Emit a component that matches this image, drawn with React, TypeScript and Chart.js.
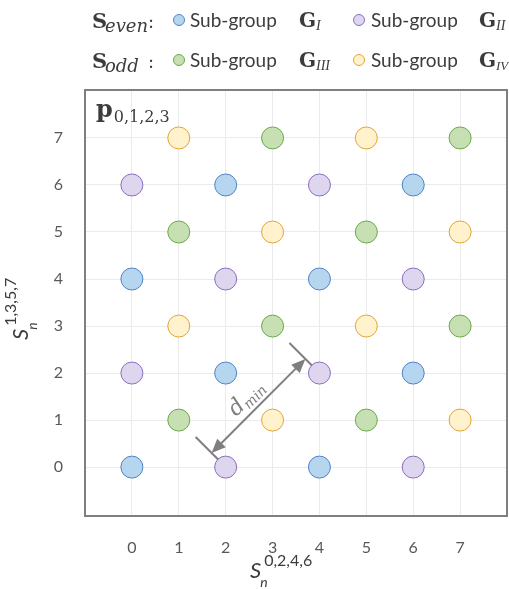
import { useEffect, useRef } from 'react';
import { Chart, registerables } from 'chart.js';

Chart.register(...registerables);

// Constellation points of the four sub-groups
const groupIX = [0, 4, 2, 6, 0, 4, 2, 6];
const groupIY = [0, 0, 2, 2, 4, 4, 6, 6];
const groupIIX = [2, 6, 0, 4, 2, 6, 0, 4];
const groupIIY = [0, 0, 2, 2, 4, 4, 6, 6];
const groupIIIX = [1, 5, 3, 7, 1, 5, 3, 7];
const groupIIIY = [1, 1, 3, 3, 5, 5, 7, 7];
const groupIVX = [3, 7, 1, 5, 3, 7, 1, 5];
const groupIVY = [1, 1, 3, 3, 5, 5, 7, 7];

// Axis tick values
const xTicks = [0, 1, 2, 3, 4, 5, 6, 7];
const yTicks = [0, 1, 2, 3, 4, 5, 6, 7];

// Minimum-distance marker (arrow ends and extension lines, in data units)
const dMinStart = [1.7, 0.3];
const dMinEnd = [3.7, 2.3];
const dMinExtStart = [[1.84, 0.16], [1.36, 0.64]];
const dMinExtEnd = [[3.84, 2.16], [3.36, 2.64]];

const BLUE = { fill: '#b6d6ef', line: '#4f84c4' };
const PURPLE = { fill: '#ddd6ee', line: '#8c6dc0' };
const GREEN = { fill: '#c6e0b4', line: '#6aaa45' };
const ORANGE = { fill: '#fff2cc', line: '#e3a534' };

const SERIF = '"DejaVu Serif", serif';
const NARROW_SERIF = '"Liberation Serif", serif';
const SANS = 'Lato, "Open Sans", sans-serif';
const TEXT = '#3c3c3c';
const GRAY = '#7f7f7f';

const toPoints = (xs: number[], ys: number[]) => xs.map((x, i) => ({ x, y: ys[i] }));

function put(ctx: CanvasRenderingContext2D, text: string, font: string, x: number, y: number, color = TEXT) {
  ctx.font = font;
  ctx.fillStyle = color;
  ctx.fillText(text, x, y);
  return ctx.measureText(text).width;
}

function dot(ctx: CanvasRenderingContext2D, x: number, y: number, c: { fill: string; line: string }) {
  ctx.beginPath();
  ctx.arc(x, y, 5.5, 0, Math.PI * 2);
  ctx.fillStyle = c.fill;
  ctx.fill();
  ctx.lineWidth = 1;
  ctx.strokeStyle = c.line;
  ctx.stroke();
}

const decorations = {
  id: 'decorations',
  afterDatasetsDraw(chart: any) {
    const ctx: CanvasRenderingContext2D = chart.ctx;
    const xs = chart.scales.x;
    const ys = chart.scales.y;
    const px = (p: number[]) => ({ x: xs.getPixelForValue(p[0]), y: ys.getPixelForValue(p[1]) });
    ctx.save();
    ctx.strokeStyle = GRAY;
    ctx.fillStyle = GRAY;
    ctx.lineWidth = 2;
    // extension lines at both ends of the distance marker
    for (const seg of [dMinExtStart, dMinExtEnd]) {
      const a = px(seg[0]);
      const b = px(seg[1]);
      ctx.beginPath();
      ctx.moveTo(a.x, a.y);
      ctx.lineTo(b.x, b.y);
      ctx.stroke();
    }
    // double-headed arrow
    const a = px(dMinStart);
    const b = px(dMinEnd);
    const ang = Math.atan2(b.y - a.y, b.x - a.x);
    const hl = 14;
    const hw = 6;
    const cos = Math.cos(ang);
    const sin = Math.sin(ang);
    ctx.beginPath();
    ctx.moveTo(a.x + cos * hl * 0.8, a.y + sin * hl * 0.8);
    ctx.lineTo(b.x - cos * hl * 0.8, b.y - sin * hl * 0.8);
    ctx.stroke();
    const head = (tip: { x: number; y: number }, dir: number) => {
      const bx = tip.x - dir * cos * hl;
      const by = tip.y - dir * sin * hl;
      ctx.beginPath();
      ctx.moveTo(tip.x, tip.y);
      ctx.lineTo(bx - sin * hw, by + cos * hw);
      ctx.lineTo(bx + sin * hw, by - cos * hw);
      ctx.closePath();
      ctx.fill();
    };
    head(b, 1);
    head(a, -1);
    // d_min label along the arrow
    const mx = (a.x + b.x) / 2;
    const my = (a.y + b.y) / 2;
    ctx.translate(mx, my);
    ctx.rotate(ang);
    ctx.font = `italic 22px ${SERIF}`;
    const wd = ctx.measureText('d').width;
    ctx.font = `italic 14px ${SERIF}`;
    const wm = ctx.measureText('min').width;
    const sx = -3 - (wd + wm) / 2;
    put(ctx, 'd', `italic 22px ${SERIF}`, sx, -8, GRAY);
    put(ctx, 'min', `italic 14px ${SERIF}`, sx + wd, -4, GRAY);
    ctx.restore();
  },
  afterDraw(chart: any) {
    const ctx: CanvasRenderingContext2D = chart.ctx;
    const { left, right, top, bottom } = chart.chartArea;
    ctx.save();
    // plot frame
    ctx.strokeStyle = GRAY;
    ctx.lineWidth = 2;
    ctx.strokeRect(left, top, right - left, bottom - top);

    ctx.textAlign = 'left';
    ctx.textBaseline = 'alphabetic';

    // panel title
    const wp = put(ctx, 'p', `bold 24px ${SERIF}`, 96, 117);
    put(ctx, '0,1,2,3', `16px ${SERIF}`, 96 + wp + 1, 122);

    // legend, even sub-groups
    put(ctx, 'S', `bold 21px ${SERIF}`, 92, 28);
    put(ctx, 'even', `italic 18px ${SERIF}`, 105, 32);
    put(ctx, ':', `18px ${SERIF}`, 148, 28);
    dot(ctx, 179, 20, BLUE);
    put(ctx, 'Sub-group', `19px ${SANS}`, 190, 27);
    put(ctx, 'G', `bold 20px ${SERIF}`, 299, 27);
    put(ctx, 'I', `italic 14px ${NARROW_SERIF}`, 316, 30);
    dot(ctx, 359, 20, PURPLE);
    put(ctx, 'Sub-group', `19px ${SANS}`, 371, 27);
    put(ctx, 'G', `bold 20px ${SERIF}`, 479, 27);
    put(ctx, 'II', `italic 14px ${NARROW_SERIF}`, 496, 30);

    // legend, odd sub-groups
    put(ctx, 'S', `bold 21px ${SERIF}`, 92, 68);
    put(ctx, 'odd', `italic 18px ${SERIF}`, 105, 72);
    put(ctx, ':', `18px ${SERIF}`, 148, 68);
    dot(ctx, 179, 60, GREEN);
    put(ctx, 'Sub-group', `19px ${SANS}`, 190, 67);
    put(ctx, 'G', `bold 20px ${SERIF}`, 299, 67);
    put(ctx, 'III', `italic 14px ${NARROW_SERIF}`, 316, 70);
    dot(ctx, 359, 60, ORANGE);
    put(ctx, 'Sub-group', `19px ${SANS}`, 371, 67);
    put(ctx, 'G', `bold 20px ${SERIF}`, 479, 67);
    put(ctx, 'IV', `italic 13px ${NARROW_SERIF}`, 496, 70);

    // axis titles
    const axisTitle = (sup: string) => {
      const ws = put(ctx, 'S', `italic 22px ${SANS}`, 0, 0, TEXT);
      put(ctx, 'n', `italic 14px ${SANS}`, ws - 1, 9, TEXT);
      put(ctx, sup, `16px ${SANS}`, ws + 3, -12, TEXT);
    };
    ctx.save();
    ctx.translate(250, 578);
    axisTitle('0,2,4,6');
    ctx.restore();
    ctx.save();
    ctx.translate(28, 340);
    ctx.rotate(-Math.PI / 2);
    axisTitle('1,3,5,7');
    ctx.restore();

    ctx.restore();
  },
};

const pointStyle = (c: { fill: string; line: string }) => ({
  backgroundColor: c.fill,
  borderColor: c.line,
  borderWidth: 1,
  pointRadius: 11,
  pointHoverRadius: 11,
});

export default function App() {
  const ref = useRef<HTMLCanvasElement>(null);

  useEffect(() => {
    document.body.style.margin = '0';
    const canvas = ref.current!;
    const chart = new Chart(canvas, {
      type: 'scatter',
      data: {
        datasets: [
          { label: 'G_I', data: toPoints(groupIX, groupIY), ...pointStyle(BLUE) },
          { label: 'G_II', data: toPoints(groupIIX, groupIIY), ...pointStyle(PURPLE) },
          { label: 'G_III', data: toPoints(groupIIIX, groupIIIY), ...pointStyle(GREEN) },
          { label: 'G_IV', data: toPoints(groupIVX, groupIVY), ...pointStyle(ORANGE) },
        ],
      },
      options: {
        animation: false,
        responsive: false,
        events: [],
        layout: { autoPadding: false, padding: { top: 90, right: 2, bottom: 0, left: 0 } },
        plugins: {
          legend: { display: false },
          tooltip: { enabled: false },
          title: { display: false },
        },
        scales: {
          x: {
            type: 'linear',
            min: -1,
            max: 8,
            afterBuildTicks: (s: any) => {
              s.ticks = xTicks.map((v) => ({ value: v }));
            },
            afterFit: (s: any) => {
              s.height = 73;
              s.paddingLeft = 0;
              s.paddingRight = 0;
            },
            grid: { color: '#ebebeb', lineWidth: 1, drawTicks: false },
            border: { display: false },
            ticks: {
              padding: 22,
              color: '#595959',
              font: { family: 'Lato', size: 16 },
              maxRotation: 0,
            },
          },
          y: {
            type: 'linear',
            min: -1.04,
            max: 8.02,
            afterBuildTicks: (s: any) => {
              s.ticks = yTicks.map((v) => ({ value: v }));
            },
            afterFit: (s: any) => {
              s.width = 85;
              s.paddingTop = 0;
              s.paddingBottom = 0;
            },
            grid: { color: '#ebebeb', lineWidth: 1, drawTicks: false },
            border: { display: false },
            ticks: {
              padding: 22,
              color: '#595959',
              font: { family: 'Lato', size: 16 },
            },
          },
        },
      },
      plugins: [decorations],
    });
    return () => chart.destroy();
  }, []);

  return (
    <div style={{ width: 509, height: 589 }}>
      <canvas ref={ref} width={509} height={589} style={{ display: 'block' }} />
    </div>
  );
}
